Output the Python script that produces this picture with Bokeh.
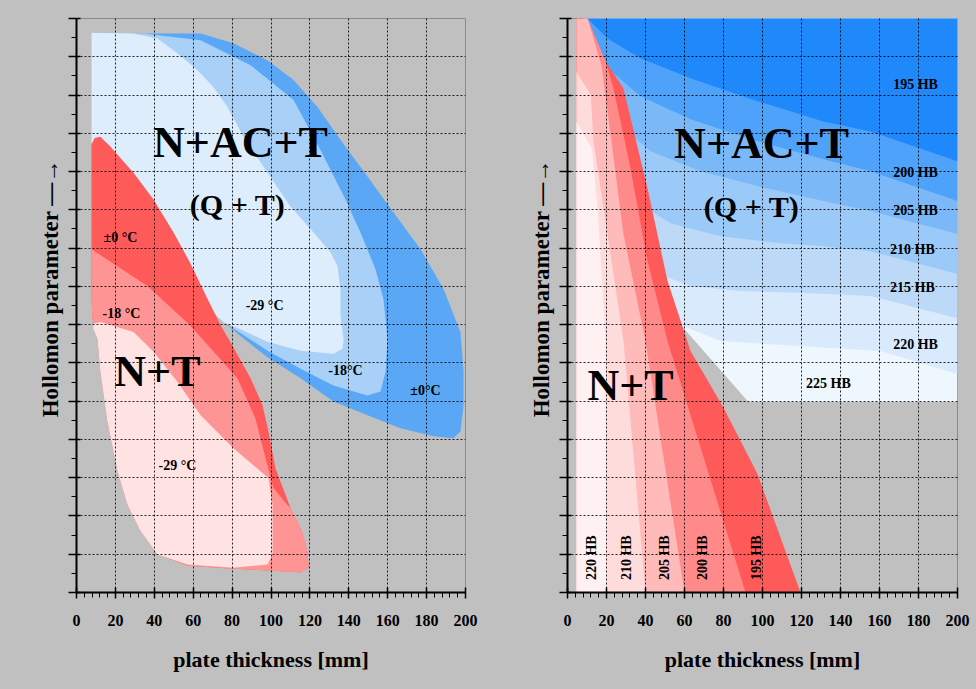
import numpy as np
from bokeh.plotting import figure
from bokeh.layouts import row
from bokeh.models import Range1d, FixedTicker
from bokeh.embed import file_html
from bokeh.resources import INLINE
from bokeh.core.properties import value

# ---------------- data: left panel (impact toughness regions) ----------------
x_ticks = list(range(0, 201, 20))
y_ticks = list(range(0, 16))

# N+AC+T (Q+T) regions, blue
lb_0C_x = [7.7, 29.3, 63.8, 80.7, 98.2, 111.6, 123.9, 135.7, 149.6, 163.0, 176.9, 188.7, 197.4, 199.0, 199.0, 197.4, 193.8,
           183.5, 166.6, 149.6, 132.1, 115.2, 98.2, 84.3, 76.0, 66.0, 50.0, 30.0, 7.7]
lb_0C_y = [14.63, 14.61, 14.61, 14.35, 13.91, 13.39, 12.69, 11.83, 10.87, 9.93, 8.97, 7.93, 6.81, 5.77, 4.89, 4.21, 4.03,
           4.08, 4.29, 4.63, 4.99, 5.60, 6.15, 6.70, 7.05, 7.50, 9.00, 10.50, 11.75]
lb_18C_x = [7.7, 34.4, 63.8, 89.5, 111.6, 125.4, 138.3, 146.0, 153.7, 157.8, 159.9, 158.9, 156.3, 149.6, 132.1, 115.2,
            98.2, 84.3, 76.0, 66.0, 50.0, 30.0, 7.7]
lb_18C_y = [14.63, 14.61, 14.43, 13.78, 12.87, 11.57, 10.27, 9.41, 8.45, 7.67, 6.63, 5.77, 5.25, 5.15, 5.41, 5.85,
            6.32, 6.78, 7.05, 7.50, 9.00, 10.50, 11.75]
lb_29C_x = [7.7, 29.3, 41.6, 51.9, 62.2, 70.4, 77.6, 85.9, 98.2, 110.0, 121.9, 130.6, 134.2, 135.7, 135.7, 137.3, 136.8,
            132.1, 115.2, 98.2, 84.3, 76.0, 66.0, 50.0, 30.0, 7.7]
lb_29C_y = [14.63, 14.61, 14.48, 14.09, 13.65, 13.21, 12.69, 11.91, 10.97, 10.09, 9.41, 8.89, 8.53, 7.93, 7.23, 6.63, 6.37,
            6.24, 6.32, 6.55, 6.88, 7.05, 7.50, 9.00, 10.50, 11.75]

# N+T regions, red
lr_0C_x = [7.7, 9.3, 12.3, 17.5, 29.3, 39.6, 49.9, 58.6, 67.4, 74.0, 80.7, 89.5, 95.6, 98.7, 102.3, 110.0, 116.2, 118.8,
           119.3, 115.2, 101.3, 80.7, 57.1, 41.6, 32.9, 26.2, 21.1, 15.9, 12.3, 10.8, 8.2, 7.7]
lr_0C_y = [11.70, 11.88, 11.91, 11.65, 10.97, 10.27, 9.41, 8.60, 7.67, 7.00, 6.40, 5.60, 4.90, 4.21, 3.25, 2.21, 1.56, 1.04,
           0.65, 0.52, 0.57, 0.62, 0.70, 0.99, 1.61, 2.29, 3.17, 4.47, 5.77, 6.63, 7.15, 7.67]
lr_18C_x = [7.7, 36.5, 58.6, 82.8, 92.0, 97.2, 101.3, 107.5, 110.0, 116.2, 118.8, 119.3, 115.2, 101.3, 80.7, 57.1, 41.6,
            32.9, 26.2, 21.1, 15.9, 12.3, 10.8, 8.2, 7.7]
lr_18C_y = [8.97, 8.01, 6.97, 5.59, 4.55, 3.51, 2.73, 2.34, 2.21, 1.56, 1.04, 0.65, 0.52, 0.57, 0.62, 0.70, 0.99,
            1.61, 2.29, 3.17, 4.47, 5.77, 6.63, 7.15, 7.67]
lr_29C_x = [8.7, 12.3, 29.3, 39.6, 51.9, 63.8, 80.7, 98.7, 100.8, 100.8, 98.2, 80.7, 57.1, 41.6, 32.9, 26.2, 21.1, 15.9,
            12.3, 10.8, 8.7]
lr_29C_y = [7.02, 7.07, 6.81, 6.29, 5.51, 4.63, 3.77, 2.99, 2.29, 0.99, 0.73, 0.65, 0.73, 0.99, 1.61, 2.29, 3.17, 4.47,
            5.77, 6.63, 6.89]

left_labels = ["N+AC+T", "(Q + T)", "N+T"]
left_labels_x = [84.3, 82.8, 41.6]
left_labels_y = [11.75, 10.14, 5.77]
left_temp_labels = ["\u00b10 \u00b0C", "-18 \u00b0C", "-29 \u00b0C", "-18\u00b0C", "\u00b10\u00b0C", "-29 \u00b0C"]
left_temp_x = [22.6, 23.1, 96.7, 138.3, 179.4, 51.9]
left_temp_y = [9.28, 7.28, 7.49, 5.80, 5.28, 3.33]

# ---------------- data: right panel (hardness regions) ----------------
# blue (N+AC+T) boundaries between hardness levels, left to right
b195_x = [10.3, 20.5, 37.4, 63.1, 97.4, 131.3, 155.4, 200.0]
b195_y = [15.0, 14.48, 13.96, 13.44, 12.84, 12.31, 12.05, 11.27]
b200_x = [18.5, 37.4, 63.1, 97.4, 131.3, 155.4, 200.0]
b200_y = [13.80, 12.97, 12.37, 11.79, 11.32, 11.01, 10.23]
b205_x = [24.6, 42.6, 68.2, 97.4, 131.3, 155.4, 200.0]
b205_y = [12.31, 11.53, 11.01, 10.62, 10.23, 9.97, 9.37]
b210_x = [34.9, 52.8, 78.5, 109.2, 131.3, 155.4, 200.0]
b210_y = [10.23, 9.65, 9.31, 9.13, 9.05, 8.92, 8.32]
b215_x = [42.6, 63.1, 88.7, 119.5, 155.4, 200.0]
b215_y = [8.40, 8.01, 7.88, 7.83, 7.75, 7.17]
b220_x = [60.0, 78.5, 119.5, 160.5, 200.0]
b220_y = [6.95, 6.57, 6.44, 6.31, 5.71]
b225_x = [8.0, 200.0, 200.0, 92.8, 58.0, 40.0, 8.0]
b225_y = [15.0, 15.0, 4.98, 4.98, 7.0, 7.0, 15.0]

# red (N+T) outlines of each hardness band: from top-left along right edge to the bottom
r195_x = [4.6, 10.3, 19.5, 28.7, 41.0, 51.3, 63.1, 80.0, 97.4, 119.5]
r195_y = [15.0, 15.0, 13.88, 13.17, 10.57, 8.14, 6.31, 4.83, 3.10, 0.0]
r200_x = [4.6, 10.3, 19.5, 23.6, 32.3, 41.0, 51.3, 91.3]
r200_y = [15.0, 15.0, 13.88, 13.17, 11.09, 8.66, 6.57, 0.0]
r205_x = [4.6, 10.3, 17.5, 22.1, 28.7, 40.0, 60.0]
r205_y = [15.0, 15.0, 13.75, 11.97, 9.37, 6.57, 0.0]
r210_x = [4.6, 12.0, 13.3, 20.5, 28.7, 40.0]
r210_y = [13.6, 13.0, 11.79, 9.37, 6.57, 0.0]
r220_x = [4.6, 12.5, 15.5, 19.5, 20.0]
r220_y = [12.3, 11.6, 10.0, 6.57, 0.0]
red_left_x = 4.6

right_hb_labels = ["195 HB", "200 HB", "205 HB", "210 HB", "215 HB", "220 HB", "225 HB"]
right_hb_x = [178.5, 178.5, 178.5, 176.9, 176.9, 178.5, 133.8]
right_hb_y = [13.28, 10.98, 9.97, 8.97, 7.96, 6.47, 5.45]
right_vlabels = ["220 HB", "210 HB", "205 HB", "200 HB", "195 HB"]
right_v_x = [12.3, 30.3, 49.7, 69.2, 96.9]
right_v_y = [0.91, 0.91, 0.91, 0.91, 0.91]
right_labels = ["N+AC+T", "(Q + T)", "N+T"]
right_labels_x = [99.5, 94.4, 32.3]
right_labels_y = [11.74, 10.10, 5.40]

# ---------------- styling ----------------
GREY = "#c0c0c0"
FONT = "Liberation Serif"


def make_fig(bl, br, bt, bb):
    p = figure(width=488, height=689, output_backend="svg", toolbar_location=None,
               x_range=Range1d(0, 200), y_range=Range1d(0, 15),
               min_border_left=bl, min_border_right=br, min_border_top=bt, min_border_bottom=bb)
    p.background_fill_color = GREY
    p.border_fill_color = GREY
    p.outline_line_color = "#8a8a8a"
    p.outline_line_width = 1
    # grid
    p.xgrid.ticker = FixedTicker(ticks=x_ticks)
    p.ygrid.ticker = FixedTicker(ticks=y_ticks)
    for g in (p.xgrid, p.ygrid):
        g.grid_line_color = "black"
        g.grid_line_dash = "2 2"
        g.grid_line_width = 1
        g.grid_line_alpha = 0.85
        g.level = "guide"
    # x axis
    xa = p.xaxis[0]
    xa.ticker = FixedTicker(ticks=x_ticks, minor_ticks=list(range(0, 201, 4)))
    xa.axis_label = "plate thickness [mm]"
    xa.axis_label_text_font = FONT
    xa.axis_label_text_font_style = "bold"
    xa.axis_label_text_font_size = "22px"
    xa.axis_label_text_color = "black"
    xa.axis_label_standoff = 18
    xa.major_label_text_font = FONT
    xa.major_label_text_font_style = "bold"
    xa.major_label_text_font_size = "16px"
    xa.major_label_text_color = "black"
    xa.major_label_standoff = 16
    xa.axis_line_width = 2
    xa.major_tick_in = 5
    xa.major_tick_out = 6
    xa.minor_tick_in = 0
    xa.minor_tick_out = 5
    xa.major_tick_line_width = 1.5
    # y axis (unlabelled scale)
    ya = p.yaxis[0]
    ya.ticker = FixedTicker(ticks=y_ticks, minor_ticks=list(np.arange(0, 15.01, 0.5)))
    ya.major_label_overrides = {t: "" for t in y_ticks}
    ya.axis_label = "\u2002\u2002\u2002Hollomon parameter \u2014\u2192"
    ya.axis_label_text_font = FONT
    ya.axis_label_text_font_style = "bold"
    ya.axis_label_text_font_size = "23px"
    ya.axis_label_text_color = "black"
    ya.axis_label_standoff = 6
    ya.major_label_standoff = 0
    ya.axis_line_width = 2
    ya.major_tick_in = 4
    ya.major_tick_out = 8
    ya.minor_tick_in = 0
    ya.minor_tick_out = 5
    ya.major_tick_line_width = 1.5
    return p


def add_text(p, xs, ys, texts, size, angle=0.0):
    r = p.text(x=xs, y=ys, text=texts, text_font=value(FONT), text_font_style="bold",
               text_font_size=size, text_align="center", text_baseline="middle",
               text_color="black", angle=angle)
    r.level = "annotation"
    return r


# ---------------- left figure ----------------
p1 = make_fig(76, 23, 18, 94)
p1.patch(lb_0C_x, lb_0C_y, fill_color="#5aa8f5", line_color=None)
p1.patch(lb_18C_x, lb_18C_y, fill_color="#a9d1f8", line_color=None)
p1.patch(lb_29C_x, lb_29C_y, fill_color="#ddedfc", line_color=None)
p1.patch(lr_0C_x, lr_0C_y, fill_color="#ff5a5a", line_color=None)
p1.patch(lr_18C_x, lr_18C_y, fill_color="#ff9494", line_color=None)
p1.patch(lr_29C_x, lr_29C_y, fill_color="#ffe3e3", line_color=None)
add_text(p1, left_labels_x[:1], left_labels_y[:1], left_labels[:1], "44px")
add_text(p1, left_labels_x[1:2], left_labels_y[1:2], left_labels[1:2], "30px")
add_text(p1, left_labels_x[2:], left_labels_y[2:], left_labels[2:], "44px")
add_text(p1, left_temp_x, left_temp_y, left_temp_labels, "14px")

# ---------------- right figure ----------------
p2 = make_fig(79, 19, 17, 97)


def band_patch(p, bx, by, color):
    xs = [8.0, 200.0, 200.0] + bx[::-1][1:] + [bx[0], 8.0]
    ys = [15.0, 15.0, by[-1]] + by[::-1][1:] + [by[0], by[0]]
    p.patch(xs, ys, fill_color=color, line_color=None)


p2.patch(b225_x, b225_y, fill_color="#eef6fe", line_color=None)
band_patch(p2, b220_x, b220_y, "#d8eafc")
band_patch(p2, b215_x, b215_y, "#bcdaf8")
band_patch(p2, b210_x, b210_y, "#9ccaf8")
band_patch(p2, b205_x, b205_y, "#7ab8f8")
band_patch(p2, b200_x, b200_y, "#4fa2fa")
band_patch(p2, b195_x, b195_y, "#1f88fb")


def red_patch(p, rx, ry, color):
    xs = rx + [red_left_x]
    ys = ry + [0.0]
    p.patch(xs, ys, fill_color=color, line_color=None)


red_patch(p2, r195_x, r195_y, "#ff5a5a")
red_patch(p2, r200_x, r200_y, "#ff8a8a")
red_patch(p2, r205_x, r205_y, "#ffbaba")
red_patch(p2, r210_x, r210_y, "#ffdcdc")
red_patch(p2, r220_x, r220_y, "#fff1f1")

add_text(p2, right_labels_x[:1], right_labels_y[:1], right_labels[:1], "44px")
add_text(p2, right_labels_x[1:2], right_labels_y[1:2], right_labels[1:2], "30px")
add_text(p2, right_labels_x[2:], right_labels_y[2:], right_labels[2:], "44px")
add_text(p2, right_hb_x, right_hb_y, right_hb_labels, "14px")
add_text(p2, right_v_x, right_v_y, right_vlabels, "14px", angle=np.pi / 2)

layout = row(p1, p2, spacing=0, styles={"background-color": GREY})
open("out.html", "w").write(file_html(layout, INLINE))
